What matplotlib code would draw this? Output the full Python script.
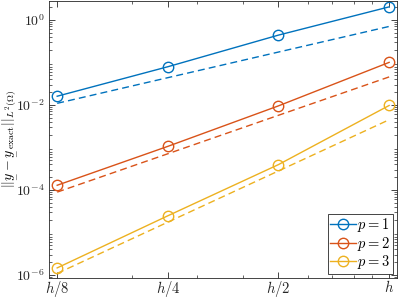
import matplotlib
matplotlib.use("Agg")
import matplotlib.pyplot as plt
from matplotlib.ticker import NullFormatter
import numpy as np

plt.rcParams['mathtext.fontset'] = 'cm'
plt.rcParams['font.family'] = 'DejaVu Serif'

h = [0.125, 0.25, 0.5, 1.0]
h_labels = [r"$h/8$", r"$h/4$", r"$h/2$", r"$h$"]

err_p1 = [0.016, 0.079, 0.438, 2.02]
err_p2 = [1.29e-4, 1.06e-3, 9.5e-3, 0.1]
err_p3 = [1.47e-6, 2.47e-5, 3.95e-4, 9.7e-3]

ref_p1 = [0.0109, 0.0437, 0.175, 0.70]
ref_p2 = [8.9e-5, 7.1e-4, 5.7e-3, 0.0455]
ref_p3 = [1.09e-6, 1.75e-5, 2.8e-4, 4.48e-3]

colors = ["#0072BD", "#D95319", "#EDB120"]
labels = [r"$p=1$", r"$p=2$", r"$p=3$"]

fig = plt.figure(figsize=(3.99, 2.99), dpi=100)
ax = fig.add_axes([0.1228, 0.0702, 0.872, 0.927])

for err, ref, c, lab in zip([err_p1, err_p2, err_p3], [ref_p1, ref_p2, ref_p3], colors, labels):
    ax.plot(h, err, "-o", color=c, lw=1.0, ms=7.5, mfc="none", mew=1.0, label=lab)
    ax.plot(h, ref, "--", color=c, lw=1.0, dashes=(5, 3))

ax.set_xscale("log")
ax.set_yscale("log")
ax.set_xlim(0.11875, 1.05)
ax.set_ylim(8.5e-7, 2.8)
ax.set_xticks(h)
ax.set_xticklabels(h_labels)
ax.xaxis.set_minor_formatter(NullFormatter())
ax.set_yticks([1e-6, 1e-4, 1e-2, 1e0])
ax.set_yticklabels([r"$10^{-6}$", r"$10^{-4}$", r"$10^{-2}$", r"$10^{0}$"])
ax.yaxis.set_minor_formatter(NullFormatter())
ax.tick_params(which="both", direction="in", top=True, right=True, colors="#262626", labelsize=10.5)
ax.tick_params(which="major", length=4, width=0.6)
ax.tick_params(which="minor", length=2, width=0.5)
ax.tick_params(axis="x", which="major", pad=1)
ax.tick_params(axis="y", which="major", pad=3, labelsize=10)
for s in ax.spines.values():
    s.set_color("#262626")
    s.set_linewidth(0.6)

ax.set_ylabel(r"$||\underset{-}{y}-\underset{-}{y}_{\rm exact}||_{L^2(\Omega)}$", fontsize=10)
ax.yaxis.set_label_coords(-0.089, 0.5)

leg = ax.legend(loc="lower right", fontsize=10.5, fancybox=False, framealpha=1,
                edgecolor="#262626", handlelength=1.8, handletextpad=0.1,
                borderpad=0.15, labelspacing=0.05, borderaxespad=0.3)
leg.get_frame().set_linewidth(0.6)

fig.savefig("out.png", dpi=100)
